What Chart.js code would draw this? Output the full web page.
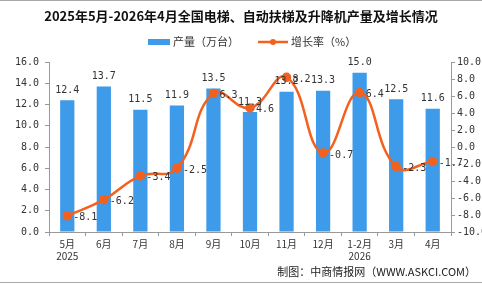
<!DOCTYPE html>
<html>
<head>
<meta charset="utf-8">
<script src="https://cdn.jsdelivr.net/npm/chart.js@4.4.1/dist/chart.umd.min.js"></script>
<style>
  html, body { margin: 0; padding: 0; background: #fff; }
  #wrap { position: relative; width: 482px; height: 284px; }
</style>
</head>
<body>
<div id="wrap"><canvas id="c" width="482" height="284"></canvas></div>
<script>
// 数据
const months = [['5月', '2025'], '6月', '7月', '8月', '9月', '10月', '11月', '12月', ['1-2月', '2026'], '3月', '4月'];
const output = [12.4, 13.7, 11.5, 11.9, 13.5, 11.3, 13.2, 13.3, 15.0, 12.5, 11.6];
const growth = [-8.1, -6.2, -3.4, -2.5, 6.3, 4.6, 8.2, -0.7, 6.4, -2.3, -1.7];

const titleText = '2025年5月-2026年4月全国电梯、自动扶梯及升降机产量及增长情况';
const sourceText = '制图：中商情报网（WWW.ASKCI.COM）';

const BLUE = '#3d9be9';
const ORANGE = '#f2611d';
const CJK = '"Noto Sans CJK SC", "DejaVu Sans", sans-serif';
const NUM = '"DejaVu Sans Mono", monospace';

// 标题、图例、数值标签、来源
const decorPlugin = {
    id: 'decor',
    afterDraw(chart) {
        const ctx = chart.ctx;
        ctx.save();
        ctx.fillStyle = '#111';
        ctx.font = 'bold 13px ' + CJK;
        ctx.textAlign = 'center';
        ctx.textBaseline = 'middle';
        ctx.fillText(titleText, 241, 16);

        // 图例
        ctx.font = '11px ' + CJK;
        ctx.textAlign = 'left';
        ctx.fillStyle = BLUE;
        ctx.fillRect(148, 39, 22, 6);
        ctx.fillStyle = '#333';
        ctx.fillText('产量（万台）', 173, 42);
        ctx.strokeStyle = ORANGE;
        ctx.lineWidth = 2.5;
        ctx.beginPath(); ctx.moveTo(258, 42); ctx.lineTo(288, 42); ctx.stroke();
        ctx.fillStyle = ORANGE;
        ctx.beginPath(); ctx.arc(273, 42, 3, 0, Math.PI * 2); ctx.fill();
        ctx.fillStyle = '#333';
        ctx.fillText('增长率（%）', 291, 42);

        // 数值标签
        ctx.font = '10px ' + NUM;
        ctx.fillStyle = '#333';
        const barMeta = chart.getDatasetMeta(1);
        ctx.textAlign = 'center';
        ctx.textBaseline = 'bottom';
        barMeta.data.forEach((bar, i) => {
            ctx.fillText(output[i].toFixed(1), bar.x, bar.y - 5);
        });
        const lineMeta = chart.getDatasetMeta(0);
        ctx.textAlign = 'left';
        ctx.textBaseline = 'middle';
        lineMeta.data.forEach((pt, i) => {
            ctx.fillText(growth[i].toFixed(1), pt.x + 6, pt.y + 2);
        });

        // 来源
        ctx.font = '11px ' + CJK;
        ctx.textAlign = 'right';
        ctx.fillStyle = '#222';
        ctx.fillText(sourceText, 476, 272);

        // 上下边线
        ctx.fillStyle = '#aaa';
        ctx.fillRect(0, 0, 482, 1);
        ctx.fillRect(0, 282, 482, 1);
        ctx.restore();
    }
};

new Chart(document.getElementById('c'), {
    data: {
        labels: months,
        datasets: [
            {
                type: 'line',
                label: '增长率（%）',
                data: growth,
                yAxisID: 'y1',
                borderColor: ORANGE,
                backgroundColor: ORANGE,
                borderWidth: 2.5,
                tension: 0.45,
                pointRadius: 3.5,
                order: 0
            },
            {
                type: 'bar',
                label: '产量（万台）',
                data: output,
                yAxisID: 'y',
                backgroundColor: BLUE,
                barPercentage: 0.39,
                categoryPercentage: 1,
                order: 1
            }
        ]
    },
    options: {
        responsive: false,
        animation: false,
        layout: { padding: { top: 62, left: 0, right: 0, bottom: 0 } },
        plugins: {
            legend: { display: false },
            title: { display: false },
            tooltip: { enabled: false }
        },
        scales: {
            x: {
                offset: true,
                afterFit(s) { s.height = 52; },
                grid: { display: true, drawOnChartArea: false, offset: true, tickLength: 4, color: '#999' },
                border: { color: '#999' },
                ticks: { color: '#333', font: { family: CJK, size: 10 }, padding: 2, maxRotation: 0, autoSkip: false }
            },
            y: {
                position: 'left',
                min: 0, max: 16,
                afterFit(s) { s.width = 49; },
                grid: { drawOnChartArea: false, tickLength: 4, color: '#999' },
                border: { color: '#999' },
                ticks: { stepSize: 2, color: '#333', font: { family: NUM, size: 10 }, padding: 6,
                    callback: v => v.toFixed(1) }
            },
            y1: {
                position: 'right',
                min: -10, max: 10,
                afterFit(s) { s.width = 31; },
                grid: { drawOnChartArea: false, tickLength: 4, color: '#999' },
                border: { color: '#999' },
                ticks: { stepSize: 2, color: '#333', font: { family: NUM, size: 10 }, padding: 2,
                    callback: v => v.toFixed(1) }
            }
        }
    },
    plugins: [decorPlugin]
});
</script>
</body>
</html>
